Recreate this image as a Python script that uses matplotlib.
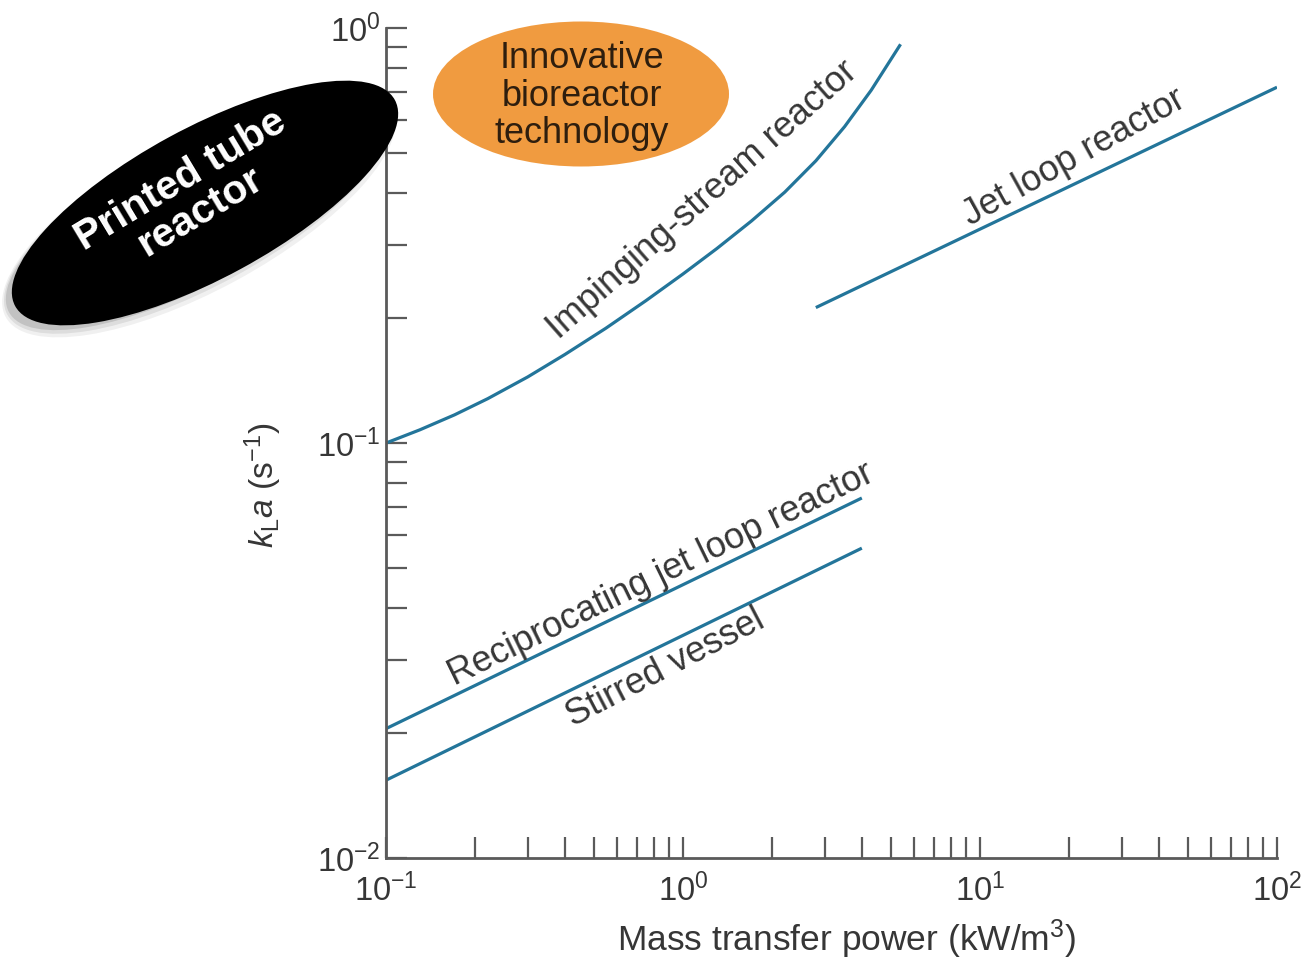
import matplotlib
matplotlib.use("Agg")
import matplotlib.pyplot as plt
from matplotlib.patches import Ellipse
from matplotlib.ticker import LogLocator, NullFormatter

plt.rcParams["font.family"] = ["Liberation Sans", "DejaVu Sans"]
plt.rcParams["mathtext.fontset"] = "custom"
plt.rcParams["mathtext.rm"] = "Liberation Sans"
plt.rcParams["mathtext.it"] = "Liberation Sans:italic"
plt.rcParams["mathtext.bf"] = "Liberation Sans:bold"
plt.rcParams["axes.unicode_minus"] = False

# ── kLa vs. mass transfer power for each reactor type ──────────────────────
impinging_x = [0.1, 0.13, 0.17, 0.22, 0.3, 0.4, 0.55, 0.75, 1.0, 1.3, 1.7,
               2.2, 2.8, 3.5, 4.3, 5.4]
impinging_y = [0.100, 0.1076, 0.1169, 0.1279, 0.1443, 0.1634, 0.1891, 0.2203,
               0.2555, 0.2942, 0.3428, 0.4022, 0.4786, 0.5786, 0.7079, 0.9137]

jet_loop_x = [2.8, 100]
jet_loop_y = [0.212, 0.72]

reciprocating_x = [0.1, 4.0]
reciprocating_y = [0.0205, 0.0737]

stirred_x = [0.1, 4.0]
stirred_y = [0.0154, 0.0558]

LINE_COLOR = "#23759a"
TEXT_COLOR = "#363636"
AXIS_COLOR = "#5a5a5a"

fig = plt.figure(figsize=(13.06, 9.66), dpi=100)
ax = fig.add_axes([0.2956, 0.1118, 0.6822, 0.8592])

for xs, ys in [(impinging_x, impinging_y), (jet_loop_x, jet_loop_y),
               (reciprocating_x, reciprocating_y), (stirred_x, stirred_y)]:
    ax.plot(xs, ys, color=LINE_COLOR, lw=2.3, solid_capstyle="butt")

ax.set_xscale("log")
ax.set_yscale("log")
ax.set_xlim(0.1, 100)
ax.set_ylim(0.01, 1)

ax.xaxis.set_minor_locator(LogLocator(base=10, subs=range(2, 10)))
ax.yaxis.set_minor_locator(LogLocator(base=10, subs=range(2, 10)))
ax.xaxis.set_minor_formatter(NullFormatter())
ax.yaxis.set_minor_formatter(NullFormatter())

ax.spines["top"].set_visible(False)
ax.spines["right"].set_visible(False)
for side in ("left", "bottom"):
    ax.spines[side].set_color(AXIS_COLOR)
    ax.spines[side].set_linewidth(2.0)

ax.tick_params(which="both", direction="in", length=15, width=1.6,
               color=AXIS_COLOR, labelcolor=TEXT_COLOR, labelsize=23.5)
ax.tick_params(axis="x", pad=11)
ax.tick_params(axis="y", pad=4)

ax.set_xlabel("Mass transfer power (kW/m$^3$)", fontsize=25.5,
              color=TEXT_COLOR)
ax.xaxis.set_label_coords(0.517, -0.072)
ax.set_ylabel(r"$k_{\mathrm{L}}a$ (s$^{-1}$)", fontsize=24,
              color=TEXT_COLOR)
ax.yaxis.set_label_coords(-0.115, 0.449)

# curve labels
label_kw = dict(fontsize=26, color=TEXT_COLOR, ha="center", va="center",
                rotation_mode="anchor")
ax.text(1.16, 0.385, "Impinging-stream reactor", rotation=41.5, **label_kw)
ax.text(20.7, 0.489, "Jet loop reactor", rotation=29, **label_kw)
ax.text(0.843, 0.0481, "Reciprocating jet loop reactor", rotation=26, **label_kw)
ax.text(0.87, 0.0287, "Stirred vessel", rotation=27.5, **label_kw)

# callout ellipses drawn on a pixel-scaled overlay
over = fig.add_axes([0, 0, 1, 1], zorder=5)
over.set_xlim(0, 1306)
over.set_ylim(966, 0)
over.axis("off")

over.add_patch(Ellipse((581, 94), 296, 145, facecolor="#f0983a",
                       edgecolor="none", alpha=0.97))
over.text(582, 96, "Innovative\nbioreactor\ntechnology", fontsize=26,
          color="#2e1e0e", ha="center", va="center", linespacing=1.1)

# soft drop shadow under the black callout
for k, a in enumerate([0.06, 0.08, 0.12]):
    over.add_patch(Ellipse((199 - k, 212 - k), 440 - 6 * k, 156 - 6 * k,
                           angle=-28.5, facecolor="black", edgecolor="none",
                           alpha=a))
over.add_patch(Ellipse((205, 203), 432, 150, angle=-28.5,
                       facecolor="black", edgecolor="none"))
over.text(190, 196, "Printed tube\nreactor", fontsize=29.5, fontweight="bold",
          color="white", ha="center", va="center", rotation=31,
          rotation_mode="anchor", linespacing=1.0)

fig.savefig("out.png", dpi=100)
